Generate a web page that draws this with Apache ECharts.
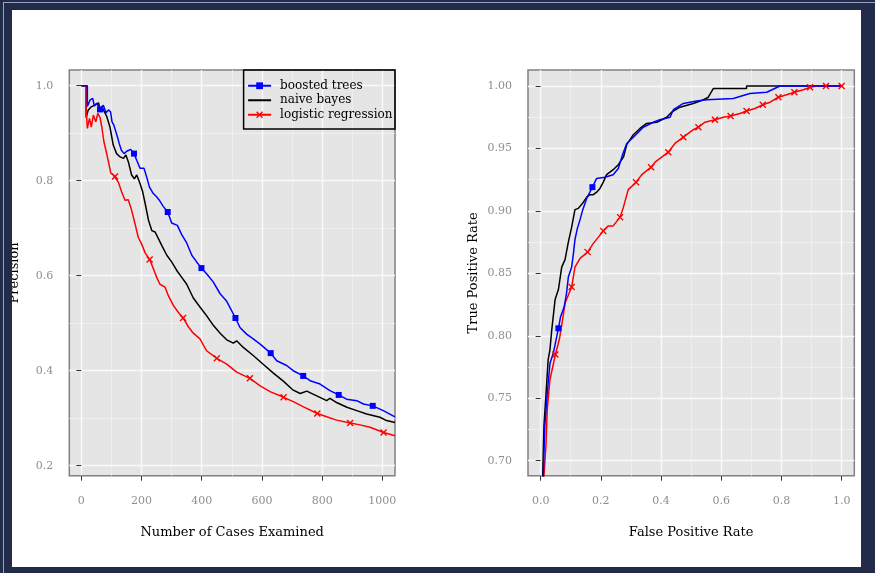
<!DOCTYPE html>
<html><head><meta charset="utf-8">
<script src="https://cdn.jsdelivr.net/npm/echarts@6/dist/echarts.min.js"></script>
<style>html,body{margin:0;padding:0;background:#fff}#c{width:875px;height:573px}</style>
</head><body><div id="c"></div>
<script>
const seriesNames = ['boosted trees', 'naive bayes', 'logistic regression'];

// ---- Left panel: precision vs number of cases examined ----
const btCases = [0,20,20,29,38,43,51,62,73,82,90,97,102,108,114,120,126,133,142,151,164,175,184,195,208,217,226,239,250,259,272,287,300,319,333,350,367,383,399,416,438,461,483,512,527,549,571,594,629,649,682,704,737,760,793,826,855,881,915,937,968,1003,1042];
const btPrecision = [1.0,1.0,0.956,0.970,0.973,0.957,0.963,0.950,0.959,0.943,0.949,0.945,0.924,0.917,0.917,0.892,0.878,0.864,0.857,0.862,0.866,0.857,0.843,0.826,0.826,0.808,0.787,0.773,0.766,0.759,0.746,0.734,0.711,0.706,0.687,0.669,0.643,0.629,0.616,0.604,0.587,0.562,0.546,0.511,0.491,0.477,0.467,0.456,0.437,0.421,0.411,0.400,0.389,0.379,0.372,0.358,0.349,0.340,0.337,0.330,0.326,0.316,0.303];
const btPrecMarkCases = [62,175,287,399,512,629,737,855,968];

const nbCases = [0,16,16,23,34,45,57,62,68,75,84,95,106,117,129,140,148,156,167,176,184,195,204,212,223,234,245,256,267,284,300,317,333,350,372,394,416,439,461,483,505,516,538,571,605,638,671,704,727,749,782,815,826,848,882,915,948,992,1014,1042];
const nbPrecision = [1.0,1.0,0.933,0.949,0.956,0.959,0.964,0.950,0.956,0.947,0.936,0.913,0.875,0.857,0.850,0.847,0.854,0.840,0.812,0.804,0.812,0.794,0.776,0.752,0.717,0.695,0.692,0.678,0.664,0.643,0.629,0.611,0.597,0.582,0.553,0.534,0.516,0.495,0.479,0.465,0.458,0.463,0.449,0.432,0.413,0.395,0.378,0.359,0.352,0.357,0.347,0.337,0.342,0.333,0.323,0.316,0.309,0.302,0.295,0.291];

const lrCases = [0,16,16,20,27,33,40,48,55,62,68,75,82,90,98,106,112,123,134,145,156,167,178,189,200,212,227,239,250,261,278,289,306,322,338,356,372,394,416,450,483,516,560,594,627,672,704,738,784,815,848,893,926,959,1004,1042];
const lrPrecision = [1.0,1.0,0.949,0.910,0.931,0.913,0.938,0.924,0.942,0.933,0.913,0.882,0.863,0.840,0.816,0.812,0.809,0.797,0.776,0.759,0.760,0.738,0.710,0.681,0.667,0.648,0.634,0.615,0.597,0.582,0.576,0.558,0.537,0.523,0.511,0.492,0.479,0.467,0.442,0.426,0.414,0.397,0.384,0.368,0.356,0.344,0.335,0.324,0.310,0.303,0.296,0.290,0.286,0.281,0.270,0.263];
const lrPrecMarkCases = [112,227,338,450,560,672,784,893,1004];

// ---- Right panel: ROC ----
const btFpr = [0,0.009,0.014,0.022,0.031,0.042,0.059,0.066,0.078,0.086,0.092,0.103,0.109,0.114,0.122,0.131,0.140,0.153,0.172,0.186,0.213,0.241,0.258,0.272,0.286,0.308,0.341,0.374,0.396,0.430,0.441,0.474,0.518,0.552,0.640,0.695,0.751,0.795,1.0];
const btTpr = [0,0.690,0.728,0.754,0.778,0.786,0.806,0.815,0.823,0.834,0.847,0.855,0.866,0.877,0.886,0.893,0.901,0.910,0.919,0.926,0.927,0.929,0.934,0.945,0.954,0.959,0.967,0.971,0.973,0.975,0.981,0.986,0.988,0.989,0.990,0.994,0.995,1.0,1.0];
const btRocMarkFpr = [0.059,0.172];

const nbFpr = [0,0.007,0.011,0.018,0.025,0.031,0.037,0.048,0.059,0.070,0.081,0.092,0.103,0.114,0.125,0.142,0.153,0.164,0.175,0.186,0.197,0.208,0.219,0.241,0.258,0.275,0.286,0.308,0.330,0.352,0.386,0.419,0.435,0.463,0.507,0.541,0.557,0.574,0.684,0.684,1.0];
const nbTpr = [0,0.690,0.728,0.754,0.781,0.789,0.805,0.829,0.837,0.855,0.861,0.875,0.887,0.901,0.902,0.907,0.911,0.913,0.913,0.915,0.918,0.923,0.929,0.933,0.937,0.943,0.953,0.961,0.966,0.970,0.971,0.975,0.979,0.983,0.986,0.989,0.991,0.998,0.998,1.0,1.0];

const lrFpr = [0,0.011,0.018,0.022,0.031,0.049,0.062,0.073,0.081,0.103,0.114,0.131,0.156,0.175,0.192,0.208,0.225,0.241,0.264,0.275,0.291,0.317,0.336,0.367,0.380,0.424,0.446,0.474,0.507,0.524,0.546,0.579,0.607,0.631,0.662,0.684,0.712,0.738,0.762,0.790,0.817,0.843,0.873,0.895,0.917,0.948,1.0];
const lrTpr = [0,0.688,0.714,0.741,0.765,0.785,0.797,0.813,0.826,0.839,0.855,0.862,0.867,0.874,0.879,0.884,0.888,0.888,0.895,0.903,0.917,0.923,0.929,0.935,0.939,0.947,0.954,0.959,0.965,0.967,0.971,0.973,0.975,0.976,0.978,0.980,0.982,0.985,0.987,0.991,0.993,0.995,0.997,0.999,1.0,1.0,1.0];
const lrRocMarkFpr = [0.049,0.103,0.156,0.208,0.264,0.317,0.367,0.424,0.474,0.524,0.579,0.631,0.684,0.738,0.790,0.843,0.895,0.948,1.0];

// ---- Tick labels ----
const caseTicks = [0,200,400,600,800,1000];
const caseMinor = [100,300,500,700,900];
const precTicks = [0.2,0.4,0.6,0.8,1.0];
const precMinor = [0.3,0.5,0.7,0.9];
const fprTicks = [0,0.2,0.4,0.6,0.8,1.0];
const fprMinor = [0.1,0.3,0.5,0.7,0.9];
const tprTicks = [0.70,0.75,0.80,0.85,0.90,0.95,1.00];
const tprMinor = [0.725,0.775,0.825,0.875,0.925,0.975];

const FONT = 'DejaVu Serif';
const BLUE = '#0000ff', RED = '#ff0000', BLACK = '#000000';
const XSYM = 'path://M0,1.4L1.4,0L5,3.6L8.6,0L10,1.4L6.4,5L10,8.6L8.6,10L5,6.4L1.4,10L0,8.6L3.6,5Z';

function build(xs, ys, marks) {
  return xs.map((x, i) => (marks && marks.includes(x)) ? { value: [x, ys[i]] } : { value: [x, ys[i]], symbol: 'none' });
}

function mainAxis(gridIndex, pos, min, max, ticks, fmt, name, nameGap) {
  return {
    type: 'value', gridIndex, position: pos, min, max,
    name, nameLocation: 'middle', nameGap,
    nameTextStyle: { fontFamily: FONT, fontSize: 13, color: '#000' },
    axisLine: { show: false },
    axisTick: { show: true, length: 5, lineStyle: { color: '#333', width: 1 }, customValues: ticks },
    axisLabel: { show: true, customValues: ticks, formatter: fmt, fontFamily: FONT, fontSize: 11, color: '#8f8f8f', margin: pos === 'left' ? 16 : 20 },
    splitLine: { show: true, lineStyle: { color: '#fafafa', width: 1.3 } },
    minorTick: { show: false }, minorSplitLine: { show: false }
  };
}
function minorAxis(gridIndex, pos, min, max, ticks) {
  return {
    type: 'value', gridIndex, position: pos, min, max,
    axisLine: { show: false },
    axisTick: { show: false, customValues: ticks },
    axisLabel: { show: false, customValues: ticks },
    splitLine: { show: true, lineStyle: { color: '#f3f3f3', width: 0.7 } }
  };
}

function lineSeries(name, xi, yi, data, color, symbol, size) {
  return {
    name, type: 'line', xAxisIndex: xi, yAxisIndex: yi, data,
    symbol: symbol, symbolSize: size, showSymbol: true, showAllSymbol: true,
    lineStyle: { color, width: 1.5 }, itemStyle: { color, borderWidth: 0 },
    silent: true, animation: false, clip: true
  };
}

const chart = echarts.init(document.getElementById('c'), null, { renderer: 'canvas' });
chart.setOption({
  backgroundColor: '#ffffff',
  animation: false,
  grid: [
    { left: 69.3, top: 70, width: 325.7, height: 405.7, show: true, backgroundColor: '#e5e5e5', borderColor: '#808080', borderWidth: 1.5, outerBoundsMode: 'none' },
    { left: 528, top: 70, width: 326.3, height: 405.7, show: true, backgroundColor: '#e5e5e5', borderColor: '#808080', borderWidth: 1.5, outerBoundsMode: 'none' }
  ],
  xAxis: [
    mainAxis(0, 'bottom', -40, 1042, caseTicks, v => String(v), 'Number of Cases Examined', 50),
    minorAxis(0, 'top', -40, 1042, caseMinor),
    mainAxis(1, 'bottom', -0.042, 1.042, fprTicks, v => v.toFixed(1), 'False Positive Rate', 50),
    minorAxis(1, 'top', -0.042, 1.042, fprMinor)
  ],
  yAxis: [
    mainAxis(0, 'left', 0.179, 1.033, precTicks, v => v.toFixed(1), 'Precision', 48),
    minorAxis(0, 'right', 0.179, 1.033, precMinor),
    mainAxis(1, 'left', 0.688, 1.0128, tprTicks, v => v.toFixed(2), 'True Positive Rate', 48),
    minorAxis(1, 'right', 0.688, 1.0128, tprMinor)
  ],
  legend: {
    orient: 'vertical', right: 480, top: 70,
    data: [
      { name: seriesNames[0] },
      { name: seriesNames[1], itemStyle: { color: 'rgba(0,0,0,0)', borderWidth: 0 } },
      { name: seriesNames[2] }
    ],
    itemWidth: 23, itemHeight: 8.5, itemGap: 0,
    padding: [8.5, 2.5, 7, 3.5],
    borderColor: '#000', borderWidth: 1.5, backgroundColor: 'transparent',
    itemStyle: { borderWidth: 0 },
    textStyle: { fontFamily: FONT, fontSize: 12, color: '#000', lineHeight: 14.5, padding: [0, 0, 0, 4] },
    selectedMode: false
  },
  series: [
    lineSeries(seriesNames[1], 0, 0, build(nbCases, nbPrecision, null), BLACK, 'none', 0),
    lineSeries(seriesNames[2], 0, 0, build(lrCases, lrPrecision, lrPrecMarkCases), RED, XSYM, 7),
    lineSeries(seriesNames[0], 0, 0, build(btCases, btPrecision, btPrecMarkCases), BLUE, 'rect', 6),
    lineSeries(seriesNames[1], 2, 2, build(nbFpr, nbTpr, null), BLACK, 'none', 0),
    lineSeries(seriesNames[2], 2, 2, build(lrFpr, lrTpr, lrRocMarkFpr), RED, XSYM, 7),
    lineSeries(seriesNames[0], 2, 2, build(btFpr, btTpr, btRocMarkFpr), BLUE, 'rect', 6)
  ],
  graphic: [
    { type: 'rect', z: 1000, silent: true, shape: { x: 0, y: 0, width: 875, height: 10 }, style: { fill: '#232b4b' } },
    { type: 'rect', z: 1000, silent: true, shape: { x: 0, y: 0, width: 12, height: 573 }, style: { fill: '#232b4b' } },
    { type: 'rect', z: 1000, silent: true, shape: { x: 861, y: 0, width: 14, height: 573 }, style: { fill: '#232b4b' } },
    { type: 'rect', z: 1000, silent: true, shape: { x: 0, y: 567, width: 875, height: 6 }, style: { fill: '#232b4b' } },
    { type: 'rect', z: 1001, silent: true, shape: { x: 3, y: 2, width: 872, height: 1 }, style: { fill: '#9aa2bd' } },
    { type: 'rect', z: 1001, silent: true, shape: { x: 3, y: 2, width: 1, height: 571 }, style: { fill: '#9aa2bd' } }
  ]
});
</script>
</body></html>
